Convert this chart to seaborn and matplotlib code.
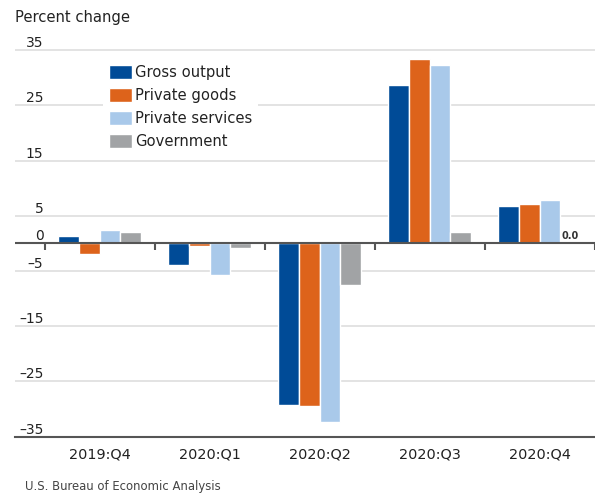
import matplotlib
matplotlib.use("Agg")
import matplotlib.pyplot as plt
import seaborn as sns
import pandas as pd
import numpy as np

quarters = ["2019:Q4", "2020:Q1", "2020:Q2", "2020:Q3", "2020:Q4"]
series = ["Gross output", "Private goods", "Private services", "Government"]
gross_output = [1.4, -4.0, -29.2, 28.6, 6.8]
private_goods = [-1.9, -0.4, -29.4, 33.4, 7.2]
private_services = [2.4, -5.7, -32.4, 32.2, 7.8]
government = [2.0, -0.8, -7.5, 2.1, 0.0]
colors = ["#004B97", "#DD631B", "#A9C9EA", "#A1A3A5"]
ytick_values = [35, 25, 15, 5, 0, -5, -15, -25, -35]

df = pd.DataFrame({
    "quarter": quarters * 4,
    "series": sum([[s] * len(quarters) for s in series], []),
    "value": gross_output + private_goods + private_services + government,
})

sns.set_style("white")
plt.rcParams["font.family"] = ["DejaVu Sans"]
FS = 10
LFS = 10.6

fig = plt.figure(figsize=(5.95, 4.95), dpi=100)
ax = fig.add_axes([15 / 595, (495 - 436.7) / 495, (594.5 - 15) / 595, (436.7 - 44.5) / 495])

sns.barplot(data=df, x="quarter", y="value", hue="series", order=quarters,
            hue_order=series, palette=colors, width=0.75, ax=ax,
            edgecolor="white", linewidth=1, saturation=1)

ax.set_xlim(-0.77, 4.5)
ax.set_ylim(-35, 36)

# gridlines
for v in ytick_values:
    if v not in (0, -35):
        ax.axhline(v, color="#E3E3E3", lw=1.4, zorder=0)
ax.axhline(0, color="#555555", lw=1.5, zorder=3)

for s in ["top", "right", "left"]:
    ax.spines[s].set_visible(False)
ax.spines["bottom"].set_color("#555555")
ax.spines["bottom"].set_linewidth(1.5)

# y tick labels inside the axes above the gridlines
ax.set_yticks(ytick_values)
ax.set_yticklabels([str(v).replace("-", "\u2013") for v in ytick_values])
ax.tick_params(axis="y", length=0, pad=-20.5, labelsize=FS, colors="#222222")
for lab in ax.get_yticklabels():
    lab.set_verticalalignment("bottom")

# x ticks: labels at centers, tick marks at boundaries
ax.set_xlabel("")
ax.set_ylabel("")
ax.tick_params(axis="x", length=0, pad=8, labelsize=10.4, colors="#222222")
bounds = np.arange(len(quarters) + 1) - 0.5
ax.set_xticks(bounds, minor=True)
ax.tick_params(axis="x", which="minor", length=6, width=1.5, color="#555555", direction="out")
ax.vlines(bounds, -1.2, 0, color="#555555", lw=1.5, zorder=3, clip_on=False)

# label for zero value
ax.text(4 + 0.75 * 3 / 8, 0.5, "0.0", ha="center", va="bottom", fontsize=7,
        color="#333333", fontweight="bold")

# legend
handles, labels = ax.get_legend_handles_labels()
leg = ax.legend(handles, labels, loc="upper left", bbox_to_anchor=(103 / 595, 1 - 59 / 495),
                bbox_transform=fig.transFigure, frameon=True, fontsize=LFS,
                handlelength=1.55, handleheight=1.05, handletextpad=0.22,
                labelspacing=0.55, borderpad=0.4, borderaxespad=0)
leg.get_frame().set_facecolor("white")
leg.get_frame().set_edgecolor("none")
leg.get_frame().set_alpha(1)
for t in leg.get_texts():
    t.set_color("#222222")

fig.text(15 / 595, 1 - 22 / 495, "Percent change", fontsize=LFS, color="#222222")
fig.text(25 / 595, 1 - 490 / 495, "U.S. Bureau of Economic Analysis", fontsize=8.4, color="#444444")

fig.savefig("out.png", dpi=100)
